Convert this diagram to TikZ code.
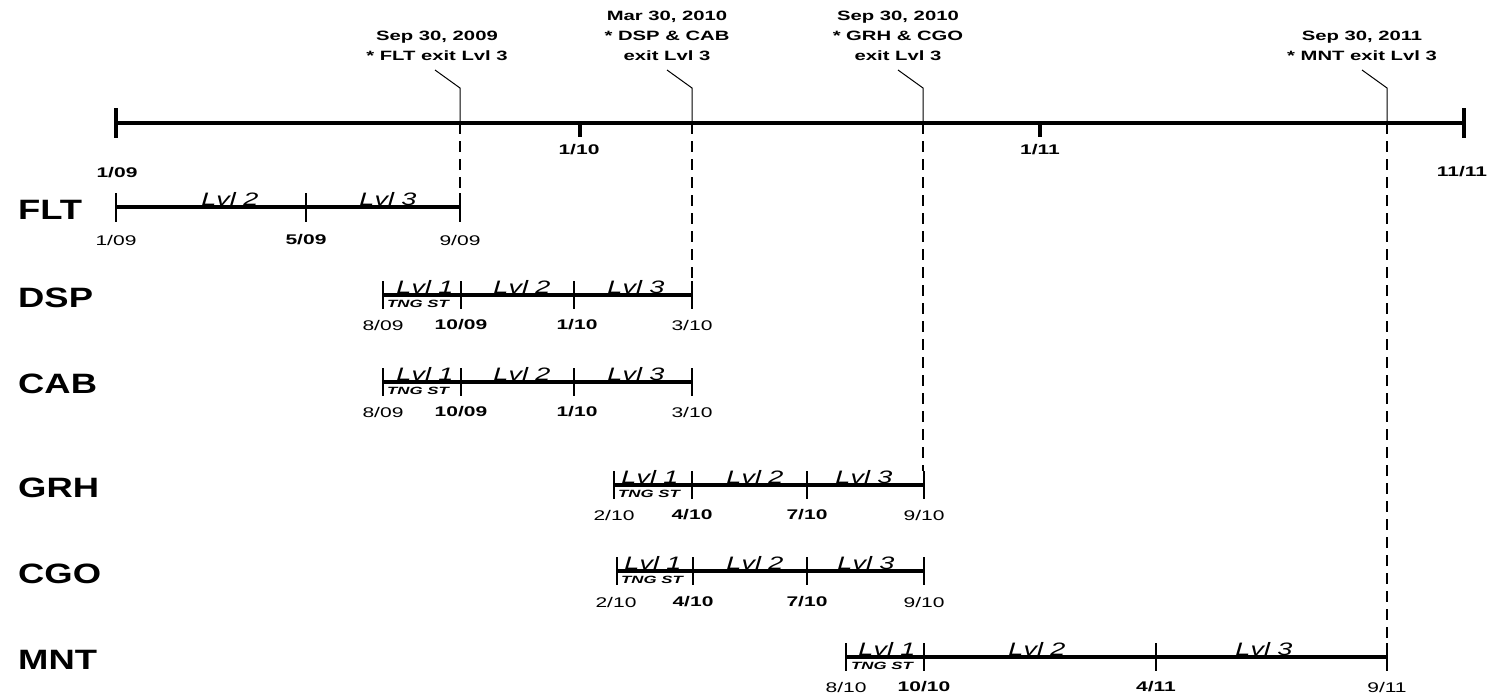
\documentclass[tikz,border=0pt]{standalone}
\usepackage{fontspec}
\setmainfont[FakeStretch=1.5]{Liberation Sans}
\newfontfamily\rowfont[FakeStretch=1.3]{Liberation Sans}
\newfontfamily\tngfont[FakeStretch=1.6]{Liberation Sans}
\usetikzlibrary{positioning}

\begin{document}
\begin{tikzpicture}[x=1pt,y=-1pt,
    axis/.style={line width=4.8pt},
    bar/.style={line width=3.8pt},
    tck/.style={line width=1.2pt},
    lead/.style={line width=1pt},
    guide/.style={line width=1.3pt,dash pattern=on 11pt off 7pt},
    dlab/.style={font=\fontsize{14}{14}\selectfont,inner sep=0pt},
    blab/.style={font=\bfseries\fontsize{14}{14}\selectfont,inner sep=0pt},
    lvl/.style={font=\itshape\fontsize{18}{18}\selectfont,inner sep=0pt,anchor=base},
    tng/.style={font=\tngfont\bfseries\itshape\fontsize{10.5}{10.5}\selectfont,inner sep=0pt},
    rowlab/.style={font=\rowfont\bfseries\fontsize{28}{28}\selectfont,anchor=west,inner sep=0pt},
    note/.style={font=\bfseries\fontsize{13.5}{20}\selectfont,align=center,anchor=south,inner sep=0pt}]
  \useasboundingbox (0,0) rectangle (1499,696);

  % main time line
  \coordinate (start) at (116,123);
  \coordinate (stop) at (1464,123);
  \draw[axis] (start) -- (stop);
  \draw[axis] (116,108) -- (116,138);
  \draw[axis] (1464,108) -- (1464,138);
  \draw[line width=4pt] (580,123) -- (580,137);
  \draw[line width=4pt] (1040,123) -- (1040,137);
  \node[blab] (a09) at (117,173) {1/09};
  \node[blab] (a10) at (579,150) {1/10};
  \node[blab] (a11) at (1040,150) {1/11};
  \node[blab] (a1111) at (1462,172) {11/11};

  % exit notes
  \node[note] (n1) at (437,61) {Sep 30, 2009\\* FLT exit Lvl 3};
  \node[note] (n2) at (667,61) {Mar 30, 2010\\* DSP \& CAB\\exit Lvl 3};
  \node[note] (n3) at (898,61) {Sep 30, 2010\\* GRH \& CGO\\exit Lvl 3};
  \node[note] (n4) at (1362,61) {Sep 30, 2011\\* MNT exit Lvl 3};
  \coordinate (e1) at (460,123);
  \coordinate (e2) at (692,123);
  \coordinate (e3) at (923,123);
  \coordinate (e4) at (1387,123);
  \draw[lead] (435,70) -- ++(25,18) |- (e1);
  \draw[lead] (667,70) -- ++(25,18) |- (e2);
  \draw[lead] (898,70) -- ++(25,18) |- (e3);
  \draw[lead] (1362,70) -- ++(25,18) |- (e4);
  \draw[guide] (e1) -- (460,193);
  \draw[guide] (e2) -- (692,281);
  \draw[guide] (e3) -- (923,471);
  \draw[guide] (e4) -- (1387,643);

  % FLT
  \node[rowlab] (flt) at (18,210) {FLT};
  \draw[bar] (116,207) -- (460,207);
  \draw[tck] (116,193) -- (116,222);
  \draw[tck] (306,193) -- (306,222);
  \draw[tck] (460,193) -- (460,222);
  \node[lvl] (f2) at (230,205) {Lvl 2};
  \node[lvl] (f3) at (388,205) {Lvl 3};
  \node[dlab] (f01) at (116,240) {1/09};
  \node[blab] (f05) at (306,240) {5/09};
  \node[dlab] (f09) at (460,240) {9/09};

  % DSP
  \node[rowlab] (dsp) at (18,298) {DSP};
  \draw[bar] (383,295) -- (692,295);
  \draw[tck] (383,281) -- (383,309);
  \draw[tck] (461,281) -- (461,309);
  \draw[tck] (574,281) -- (574,309);
  \draw[tck] (692,281) -- (692,309);
  \node[lvl] (d1) at (425,293) {Lvl 1};
  \node[lvl] (d2) at (522,293) {Lvl 2};
  \node[lvl] (d3) at (636,293) {Lvl 3};
  \node[tng] (dt) at (418,304) {TNG ST};
  \node[dlab] (d08) at (383,325) {8/09};
  \node[blab] (d10) at (461,325) {10/09};
  \node[blab] (d01) at (577,325) {1/10};
  \node[dlab] (d03) at (692,325) {3/10};

  % CAB
  \node[rowlab] (cab) at (18,384) {CAB};
  \draw[bar] (383,382) -- (692,382);
  \draw[tck] (383,368) -- (383,396);
  \draw[tck] (461,368) -- (461,396);
  \draw[tck] (574,368) -- (574,396);
  \draw[tck] (692,368) -- (692,396);
  \node[lvl] (c1) at (425,380) {Lvl 1};
  \node[lvl] (c2) at (522,380) {Lvl 2};
  \node[lvl] (c3) at (636,380) {Lvl 3};
  \node[tng] (ct) at (418,391) {TNG ST};
  \node[dlab] (c08) at (383,412) {8/09};
  \node[blab] (c10) at (461,412) {10/09};
  \node[blab] (c01) at (577,412) {1/10};
  \node[dlab] (c03) at (692,412) {3/10};

  % GRH
  \node[rowlab] (grh) at (18,488) {GRH};
  \draw[bar] (614,485) -- (924,485);
  \draw[tck] (614,471) -- (614,499);
  \draw[tck] (692,471) -- (692,499);
  \draw[tck] (807,471) -- (807,499);
  \draw[tck] (924,471) -- (924,499);
  \node[lvl] (g1) at (650,483) {Lvl 1};
  \node[lvl] (g2) at (755,483) {Lvl 2};
  \node[lvl] (g3) at (864,483) {Lvl 3};
  \node[tng] (gt) at (649,494) {TNG ST};
  \node[dlab] (g02) at (614,515) {2/10};
  \node[blab] (g04) at (692,515) {4/10};
  \node[blab] (g07) at (807,515) {7/10};
  \node[dlab] (g09) at (924,515) {9/10};

  % CGO
  \node[rowlab] (cgo) at (18,574) {CGO};
  \draw[bar] (617,571) -- (924,571);
  \draw[tck] (617,557) -- (617,585);
  \draw[line width=2.4pt] (693,557) -- (693,585);
  \draw[tck] (807,557) -- (807,585);
  \draw[tck] (924,557) -- (924,585);
  \node[lvl] (o1) at (653,569) {Lvl 1};
  \node[lvl] (o2) at (755,569) {Lvl 2};
  \node[lvl] (o3) at (866,569) {Lvl 3};
  \node[tng] (ot) at (652,580) {TNG ST};
  \node[dlab] (o02) at (616,602) {2/10};
  \node[blab] (o04) at (693,602) {4/10};
  \node[blab] (o07) at (807,602) {7/10};
  \node[dlab] (o09) at (924,602) {9/10};

  % MNT
  \node[rowlab] (mnt) at (18,660) {MNT};
  \draw[bar] (846,657) -- (1387,657);
  \draw[tck] (846,643) -- (846,671);
  \draw[tck] (924,643) -- (924,671);
  \draw[tck] (1156,643) -- (1156,671);
  \draw[tck] (1387,643) -- (1387,671);
  \node[lvl] (m1) at (887,655) {Lvl 1};
  \node[lvl] (m2) at (1037,655) {Lvl 2};
  \node[lvl] (m3) at (1264,655) {Lvl 3};
  \node[tng] (mt) at (882,666) {TNG ST};
  \node[dlab] (m08) at (846,687) {8/10};
  \node[blab] (m10) at (924,687) {10/10};
  \node[blab] (m04) at (1156,687) {4/11};
  \node[dlab] (m09) at (1387,687) {9/11};
\end{tikzpicture}
\end{document}
